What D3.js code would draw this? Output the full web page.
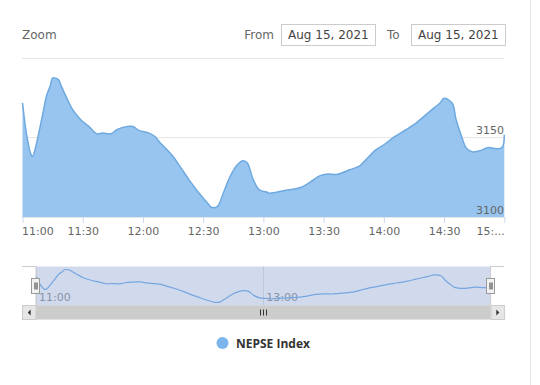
<!DOCTYPE html>
<html>
<head>
<meta charset="utf-8">
<script src="https://cdn.jsdelivr.net/npm/d3@7/dist/d3.min.js"></script>
<style>
  body { margin: 0; background: #fff; }
  svg { font-family: "DejaVu Sans", Verdana, sans-serif; display: block; }
</style>
</head>
<body>
<svg id="chart" width="540" height="385"></svg>
<script>
// NEPSE Index, intraday Aug 15, 2021
var times = ["11:00","11:02","11:04","11:05","11:06","11:07","11:08","11:10","11:12","11:14","11:15","11:18","11:19","11:22",
             "11:25","11:29","11:33","11:37","11:40","11:44","11:47","11:50","11:55","11:58",
             "12:03","12:06","12:08","12:12","12:15","12:19","12:23","12:28","12:33","12:34",
             "12:37","12:40","12:43","12:47","12:50","12:52","12:55","12:58","13:02","13:03",
             "13:10","13:19","13:23","13:28","13:32","13:37","13:43","13:48","13:51","13:56",
             "14:00","14:05","14:11","14:16","14:20","14:25","14:28","14:30","14:34","14:36",
             "14:39","14:41","14:44","14:48","14:52","14:56","14:59","15:00"];
var values = [3171.5,3152.0,3140.0,3138.0,3141.0,3146.3,3152.0,3164.0,3176.0,3183.0,3187.2,3186.0,3183.0,3174.7,
              3167.3,3161.0,3156.8,3152.2,3152.6,3152.2,3154.7,3156.2,3156.8,3154.3,
              3152.6,3150.5,3147.4,3142.1,3137.9,3130.6,3123.3,3114.9,3107.5,3106.1,
              3106.5,3114.9,3124.3,3132.7,3135.2,3133.8,3123.3,3117.0,3115.5,3114.9,
              3116.5,3118.7,3121.6,3125.8,3127.0,3126.8,3129.6,3132.1,3135.8,3142.1,
              3145.3,3150.1,3154.7,3158.9,3163.1,3168.4,3171.5,3174.4,3171.5,3161.0,
              3149.5,3143.2,3140.9,3141.5,3143.6,3142.8,3143.8,3151.6];
var xTicks = ["11:00","11:30","12:00","12:30","13:00","13:30","14:00","14:30","15:00"];
var navTicks = ["11:00","13:00"];
var yTicks = [3100, 3150, 3200];
var seriesName = "NEPSE Index";
var fromDate = "Aug 15, 2021";
var toDate = "Aug 15, 2021";

var parse = d3.timeParse("%H:%M");
var data = times.map(function(t, i){ return {t: parse(t), v: values[i]}; });
var svg = d3.select("#chart");
var curve = d3.curveCatmullRom.alpha(0.5);

// page border on the right
svg.append("line").attr("x1", 530.5).attr("x2", 530.5).attr("y1", 0).attr("y2", 385)
  .attr("stroke", "#e6e6e6");

// ---- range selector header
svg.append("text").attr("x", 22).attr("y", 39).attr("font-size", 12).attr("fill", "#666").text("Zoom");
svg.append("text").attr("x", 274).attr("y", 39).attr("font-size", 12).attr("fill", "#666")
  .attr("text-anchor", "end").text("From");
svg.append("text").attr("x", 387).attr("y", 39).attr("font-size", 12).attr("fill", "#666").text("To");
[[281.5, fromDate], [411.5, toDate]].forEach(function(b){
  svg.append("rect").attr("x", b[0]).attr("y", 24.5).attr("width", 94).attr("height", 21)
    .attr("fill", "#fff").attr("stroke", "#cccccc");
  svg.append("text").attr("x", b[0] + 6.5).attr("y", 39).attr("font-size", 12).attr("fill", "#444").text(b[1]);
});

// ---- main plot
var x = d3.scaleTime().domain([parse("11:00"), parse("15:00")]).range([22.5, 504.3]);
var y = d3.scaleLinear().domain([3100, 3200]).range([217, 57.5]);

var grid = svg.append("g");
grid.selectAll("line").data(yTicks).enter().append("line")
  .attr("x1", 22).attr("x2", 504)
  .attr("y1", function(d){ return Math.round(y(d)) + 0.5; })
  .attr("y2", function(d){ return Math.round(y(d)) + 0.5; })
  .attr("stroke", "#e6e6e6");

var area = d3.area().curve(curve)
  .x(function(d){ return x(d.t); }).y0(217).y1(function(d){ return y(d.v); });
var line = d3.line().curve(curve)
  .x(function(d){ return x(d.t); }).y(function(d){ return y(d.v); });

svg.append("path").datum(data).attr("d", area).attr("fill", "#98c5ef");
svg.append("path").datum(data).attr("d", line).attr("fill", "none")
  .attr("stroke", "#6ea9e0").attr("stroke-width", 1.5);

// y labels (last one hidden, as highstock does)
svg.append("g").selectAll("text").data(yTicks.slice(0, -1)).enter().append("text")
  .attr("x", 504).attr("y", function(d){ return y(d) - 3; })
  .attr("text-anchor", "end").attr("font-size", 11).attr("fill", "#666")
  .text(function(d){ return d; });

// x axis
var xAxis = d3.axisBottom(x).tickValues(xTicks.map(parse))
  .tickFormat(d3.timeFormat("%H:%M")).tickSize(6).tickPadding(4);
var gx = svg.append("g").attr("transform", "translate(0,217)").call(xAxis);
gx.select(".domain").remove();
gx.selectAll(".tick line").attr("stroke", "#ccd6eb");
gx.selectAll(".tick text").attr("font-size", 11).attr("fill", "#666")
  .attr("font-family", "DejaVu Sans, sans-serif");
var labels = gx.selectAll(".tick text").nodes();
d3.select(labels[0]).attr("text-anchor", "start").attr("x", -1);
d3.select(labels[labels.length - 1]).attr("text-anchor", "end").attr("x", 0).text("15:...");

// ---- navigator
var navTop = 266.5, navBot = 305.5;
var nx = d3.scaleTime().domain(x.domain()).range([36, 490.6]);
var ext = d3.extent(values), pad = (ext[1] - ext[0]) * 0.1;
var ny = d3.scaleLinear().domain([ext[0] - pad, ext[1] + pad]).range([navBot, navTop]);

var nav = svg.append("g");
nav.selectAll(".ng").data(navTicks).enter().append("line")
  .attr("x1", function(d){ return Math.round(nx(parse(d))) + 0.5; })
  .attr("x2", function(d){ return Math.round(nx(parse(d))) + 0.5; })
  .attr("y1", navTop).attr("y2", navBot).attr("stroke", "#e6e6e6");
nav.selectAll(".nl").data(navTicks).enter().append("text")
  .attr("x", function(d){ return nx(parse(d)) + 3; }).attr("y", 301)
  .attr("font-size", 11).attr("fill", "#999").text(function(d){ return d; });

var navLine = d3.line().curve(curve)
  .x(function(d){ return nx(d.t); }).y(function(d){ return ny(d.v); });
nav.append("path").datum(data).attr("d", navLine).attr("fill", "none")
  .attr("stroke", "#7cb5ec").attr("stroke-width", 1.2);

// mask over selected range (whole day)
nav.append("rect").attr("x", nx.range()[0]).attr("y", navTop)
  .attr("width", nx.range()[1] - nx.range()[0]).attr("height", navBot - navTop)
  .attr("fill", "rgba(102,133,194,0.3)");
nav.append("path")
  .attr("d", "M22," + navTop + "H" + nx.range()[0] + "V" + navBot + "H" + nx.range()[1] +
        "V" + navTop + "H504")
  .attr("fill", "none").attr("stroke", "#cccccc");

// handles
nx.range().forEach(function(hx){
  var h = nav.append("g").attr("transform", "translate(" + (Math.round(hx) - 4.5) + ",278.5)");
  h.append("rect").attr("width", 8).attr("height", 15).attr("fill", "#f2f2f2").attr("stroke", "#999");
  h.append("path").attr("d", "M3.5,4V11M5.5,4V11").attr("stroke", "#333").attr("stroke-width", 1);
});

// scrollbar
var sb = svg.append("g");
sb.append("rect").attr("x", 22).attr("y", 305.5).attr("width", 482).attr("height", 14)
  .attr("fill", "#f2f2f2");
sb.append("rect").attr("x", nx.range()[0]).attr("y", 305.5)
  .attr("width", nx.range()[1] - nx.range()[0]).attr("height", 14).attr("fill", "#cccccc");
[[22, -1], [490.6, 1]].forEach(function(b){
  sb.append("rect").attr("x", b[0] + 0.5).attr("y", 305.5).attr("width", 13.5).attr("height", 14)
    .attr("fill", "#e6e6e6").attr("stroke", "#cccccc");
  var cx = b[0] + 7.2;
  sb.append("path").attr("fill", "#333")
    .attr("d", b[1] < 0 ? "M" + (cx - 1.5) + ",312.5l3,-3v6z" : "M" + (cx + 1.5) + ",312.5l-3,-3v6z");
});
var mid = (nx.range()[0] + nx.range()[1]) / 2;
sb.append("path").attr("stroke", "#333").attr("stroke-width", 1)
  .attr("d", "M" + (Math.round(mid) - 2.5) + ",309.5v6M" + (Math.round(mid) + 0.5) + ",309.5v6M" +
        (Math.round(mid) + 3.5) + ",309.5v6");

// ---- legend
svg.append("circle").attr("cx", 222.5).attr("cy", 343).attr("r", 6).attr("fill", "#7cb5ec");
svg.append("text").attr("x", 236).attr("y", 347.5).attr("font-size", 12).attr("font-weight", "bold")
  .attr("font-family", "'Open Sans', sans-serif").attr("fill", "#333").text(seriesName);
</script>
</body>
</html>
